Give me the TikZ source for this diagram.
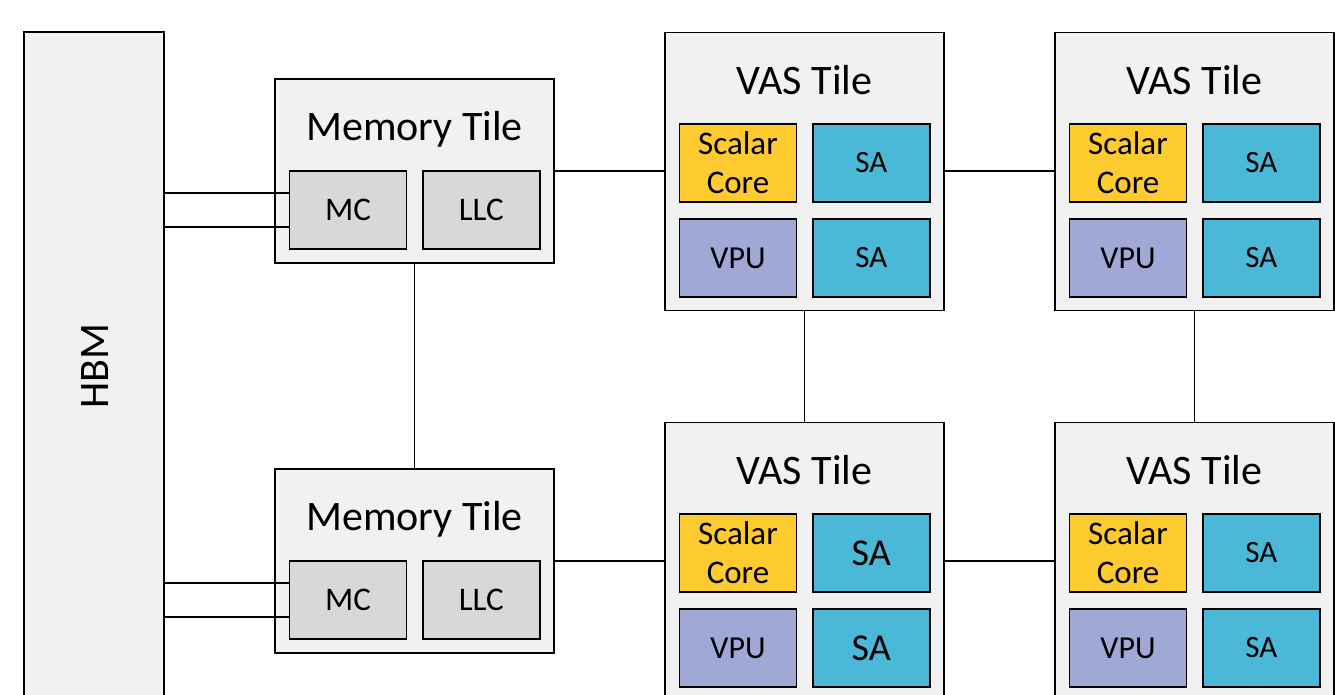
\documentclass[tikz,border=0pt]{standalone}
\usepackage{fontspec}
\setmainfont{Carlito}
\definecolor{tilegray}{HTML}{F1F1F1}
\definecolor{subgray}{HTML}{D8D8D8}
\definecolor{scalarc}{HTML}{FDCB2F}
\definecolor{sac}{HTML}{4BB8D7}
\definecolor{vpuc}{HTML}{A0A8D6}
\tikzset{
  tile/.style={draw=black, fill=tilegray, line width=1.4pt, inner sep=0pt, minimum width=279pt},
  sub/.style={draw=black, line width=1.5pt, inner sep=0pt, minimum width=117pt, minimum height=78pt, align=center},
  title/.style={font=\fontsize{42}{50}\selectfont, inner sep=0pt},
  subtxt/.style={font=\fontsize{32}{38}\selectfont},
  satxt/.style={font=\fontsize{31}{37}\selectfont},
  link/.style={draw=black, line width=1.4pt},
}
\begin{document}
\begin{tikzpicture}[x=1pt,y=-1pt]
\clip (0,0) rectangle (1335,695);
\fill[white] (0,0) rectangle (1335,695);
% HBM
\node[tile, minimum width=140pt, minimum height=700pt] (hbm) at (94,382) {};
\node[title, rotate=90] (hbmtxt) at (95,366) {HBM};
% Memory tiles
\foreach \n/\y in {T/0,B/390}{
  \node[tile, minimum height=184pt] (mem\n) at (414.5,171+\y) {};
  \node[title] (memtxt\n) at (414.5,129+\y) {Memory Tile};
  \node[sub, fill=subgray, font=\fontsize{33}{39}\selectfont] (mc\n) at (348,210+\y) {MC};
  \node[sub, fill=subgray, font=\fontsize{33}{39}\selectfont] (llc\n) at (481.3,210+\y) {LLC};
}
% VAS tiles
\foreach \n/\x/\y in {TL/0/0,TR/390/0,BL/0/390,BR/390/390}{
  \node[tile, minimum height=278pt] (vas\n) at (804.5+\x,171.5+\y) {};
  \node[title] (vastxt\n) at (804.5+\x,80+\y) {VAS Tile};
  \node[sub, fill=scalarc, font=\fontsize{33}{39}\selectfont] (sc\n) at (738+\x,163+\y) {Scalar\\Core};
  \node[sub, fill=vpuc, subtxt] (vpu\n) at (738+\x,258+\y) {VPU};
}
\node[sub, fill=sac, satxt] (saaTL) at (871.3,163) {SA};
\node[sub, fill=sac, satxt] (sabTL) at (871.3,258) {SA};
\node[sub, fill=sac, satxt] (saaTR) at (1261.3,163) {SA};
\node[sub, fill=sac, satxt] (sabTR) at (1261.3,258) {SA};
\node[sub, fill=sac, font=\fontsize{38}{44}\selectfont] (saaBL) at (871.3,553) {SA};
\node[sub, fill=sac, font=\fontsize{38}{44}\selectfont] (sabBL) at (871.3,648) {SA};
\node[sub, fill=sac, satxt] (saaBR) at (1261.3,553) {SA};
\node[sub, fill=sac, satxt] (sabBR) at (1261.3,648) {SA};
% HBM to MC links
\foreach \n in {T,B}{
  \draw[link] ([yshift=17pt]mc\n.west) -- ([yshift=17pt]mc\n.west -| hbm.east);
  \draw[link] ([yshift=-17pt]mc\n.west) -- ([yshift=-17pt]mc\n.west -| hbm.east);
}
% mesh links
\draw[link] (memT.east) -- (memT.east -| vasTL.west);
\draw[link] (memB.east) -- (memB.east -| vasBL.west);
\draw[link] (vasTL.east |- memT.east) -- (vasTR.west |- memT.east);
\draw[link] (vasBL.east |- memB.east) -- (vasBR.west |- memB.east);
\draw[link] (memT.south) -- (memB.north);
\draw[link] (vasTL.south) -- (vasBL.north);
\draw[link] (vasTR.south) -- (vasBR.north);
\end{tikzpicture}
\end{document}
